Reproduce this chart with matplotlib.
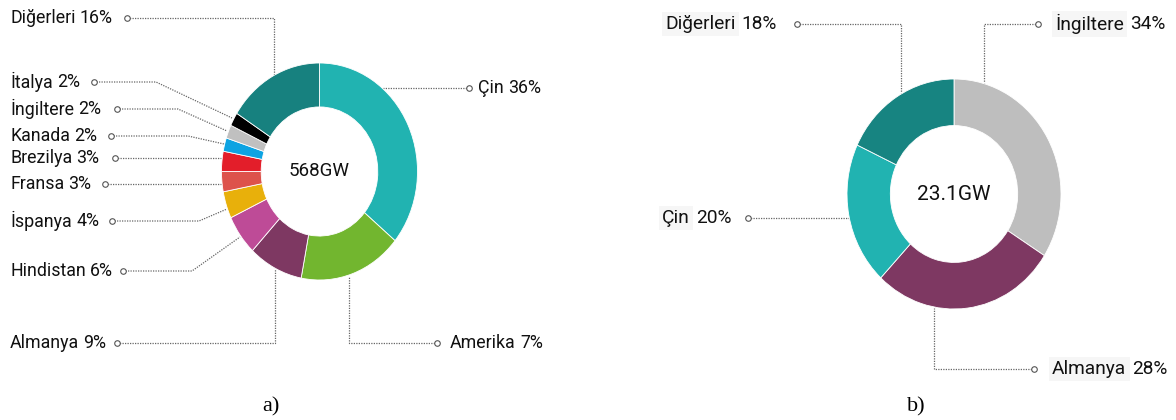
import matplotlib.pyplot as plt

W, H = 1176, 420

# a) total installed capacity
left_total = "568GW"
left_names = ["Çin", "Amerika", "Almanya", "Hindistan", "İspanya", "Fransa",
              "Brezilya", "Kanada", "İngiltere", "İtalya", "Diğerleri"]
left_values = [36, 17, 9, 6, 4, 3, 3, 2, 2, 2, 16]
left_pct = ["36%", "7%", "9%", "6%", "4%", "3%", "3%", "2%", "2%", "2%", "16%"]
left_colors = ["#21b3b1", "#72b62f", "#7e3862", "#be4b97", "#e8b00b", "#dd524b",
               "#e31e2a", "#0da3e2", "#c0c0c0", "#000000", "#17817f"]

# b) offshore
right_total = "23.1GW"
right_names = ["İngiltere", "Almanya", "Çin", "Diğerleri"]
right_values = [34, 28, 20, 18]
right_pct = ["34%", "28%", "20%", "18%"]
right_colors = ["#bebebe", "#7e3862", "#21b3b1", "#178481"]

# layout in pixels (x, y from top-left): donut centre / radii
left_geo = (319.5, 171.5, 98, 108.5)
right_geo = (954, 194, 107, 115)
hole = 0.595

# label text position + leader path (first point = circle marker)
left_layout = {
    "Diğerleri": (10, 18, [(127, 18), (274, 18), (274, 75)]),
    "İtalya":    (10, 82, [(94, 82), (156, 82), (232, 118)]),
    "İngiltere": (10, 109, [(117, 109), (178, 109), (227, 131)]),
    "Kanada":    (10, 136, [(111, 136), (188, 136), (224, 144)]),
    "Brezilya":  (10, 158, [(115, 158), (221, 158)]),
    "Fransa":    (10, 184, [(105, 184), (221, 184)]),
    "İspanya":   (10, 221, [(112, 221), (199, 221), (227, 209)]),
    "Hindistan": (10, 271, [(123, 271), (192, 271), (240, 237)]),
    "Almanya":   (10, 343, [(117, 343), (275, 343), (275, 268)]),
    "Çin":       (478, 88, [(469, 88), (383, 88)]),
    "Amerika":   (450, 343, [(437, 343), (349, 343), (349, 276)]),
}
right_layout = {
    "Diğerleri": (665, 24, [(797, 24), (901, 24), (901, 93)]),
    "İngiltere": (1055, 24, [(1038, 24), (984, 24), (984, 83)]),
    "Çin":       (662, 218, [(748, 218), (849, 218)]),
    "Almanya":   (1052, 369, [(1034, 369), (934, 369), (934, 308)]),
}

fig = plt.figure(figsize=(W / 100, H / 100), dpi=100)
ax0 = fig.add_axes([0, 0, 1, 1])
ax0.set_xlim(0, W)
ax0.set_ylim(H, 0)
ax0.axis('off')


def donut(geo, values, colors, total, fsize):
    cx, cy, rx, ry = geo
    ax = fig.add_axes([(cx - rx) / W, 1 - (cy + ry) / H, 2 * rx / W, 2 * ry / H])
    ax.pie(values, colors=colors, startangle=90, counterclock=False, radius=1,
           wedgeprops=dict(width=1 - hole, edgecolor='white', linewidth=0.6))
    ax.set_xlim(-1, 1)
    ax.set_ylim(-1, 1)
    ax.set_aspect('auto')
    ax.text(0, 0, total, ha='center', va='center', fontsize=fsize,
            family='Roboto', color='#111111')


def labels(names, pcts, layout, fsize, boxed, gap):
    for n, p in zip(names, pcts):
        tx, ty, path = layout[n]
        xs = [q[0] for q in path]
        ys = [q[1] for q in path]
        ax0.plot(xs, ys, color='#666666', lw=0.9, ls=(0, (1, 1)))
        ax0.plot(xs[0], ys[0], 'o', ms=4, mfc='white', mec='#555555', mew=0.8)
        box = dict(facecolor='#f6f6f6', edgecolor='none', pad=2.5) if boxed else None
        t = ax0.text(tx, ty, n, ha='left', va='center', fontsize=fsize,
                     family='Roboto', color='#111111', bbox=box)
        ax0.annotate(p, xy=(1, 0.5), xycoords=t, xytext=(gap, 0),
                     textcoords='offset points', ha='left', va='center',
                     fontsize=fsize, family='Roboto', color='#111111')


donut(left_geo, left_values, left_colors, left_total, 13.5)
donut(right_geo, right_values, right_colors, right_total, 15)
labels(left_names, left_pct, left_layout, 12.8, False, 3.2)
labels(right_names, right_pct, right_layout, 13.8, True, 4.5)

ax0.text(271, 407, "a)", ha='center', va='center', fontsize=16, family='Liberation Serif')
ax0.text(916, 407, "b)", ha='center', va='center', fontsize=16, family='Liberation Serif')

fig.savefig("out.png", dpi=100, facecolor='white')
